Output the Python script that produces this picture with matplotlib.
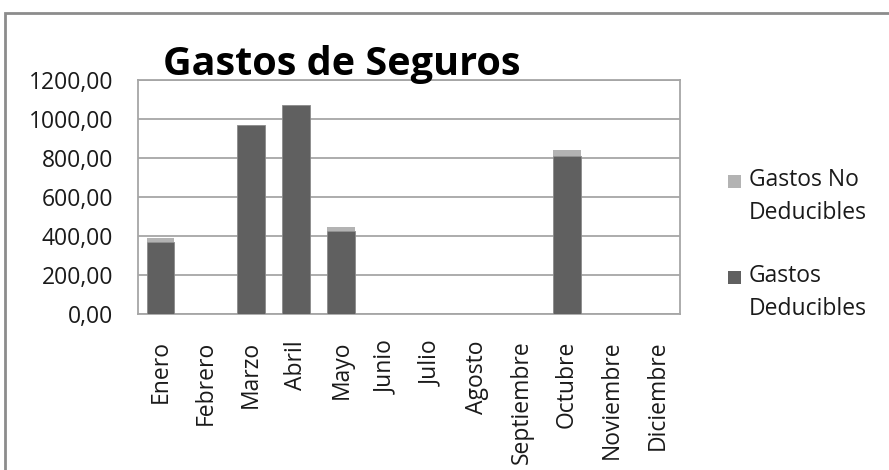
import matplotlib
matplotlib.use("Agg")
import matplotlib.pyplot as plt
from matplotlib.patches import Rectangle
import numpy as np

months = ["Enero", "Febrero", "Marzo", "Abril", "Mayo", "Junio", "Julio",
          "Agosto", "Septiembre", "Octubre", "Noviembre", "Diciembre"]
deducibles = [368, 0, 970, 1074, 425, 0, 0, 0, 0, 812, 0, 0]
no_deducibles = [20, 0, 0, 0, 20, 0, 0, 0, 0, 31, 0, 0]
yticks = [0, 200, 400, 600, 800, 1000, 1200]
ytick_labels = ["0,00", "200,00", "400,00", "600,00", "800,00", "1000,00", "1200,00"]
legend_labels = ["Gastos No\nDeducibles", "Gastos\nDeducibles"]

plt.rcParams['font.family'] = ['Open Sans', 'DejaVu Sans']

fig = plt.figure(figsize=(8.89, 4.70), dpi=100)
W, H = 889, 470
# outer chart border
fig.patches.append(Rectangle((5 / W, -0.1), 1.2, (H - 13) / H + 0.1, transform=fig.transFigure,
                             fill=False, edgecolor="#8c8c8c", linewidth=2.0))

ax = fig.add_axes([138 / W, 1 - 314 / H, (680 - 138) / W, (314 - 80) / H])
x = np.arange(len(months))
dark = "#606060"
light = "#b3b3b3"
ax.bar(x, deducibles, width=0.61, color=dark, edgecolor="#8a8a8a", linewidth=0.6, zorder=3)
ax.bar(x, no_deducibles, width=0.61, bottom=deducibles, color=light, linewidth=0, zorder=3)

ax.set_xlim(-0.5, len(months) - 0.5)
ax.set_ylim(0, 1200)
ax.set_yticks(yticks)
ax.set_yticklabels(ytick_labels, fontsize=16.5, color="#1a1a1a")
ax.set_xticks(x)
ax.set_xticklabels(months, rotation=90, fontsize=16.5, va="top", color="#1a1a1a")
ax.tick_params(length=0)
ax.tick_params(axis="y", pad=18)
ax.tick_params(axis="x", pad=19)
ax.yaxis.grid(True, color="#a6a6a6", linewidth=1.3, zorder=0)
for s in ax.spines.values():
    s.set_color("#a6a6a6")
    s.set_linewidth(1.3)

fig.text(163 / W, 1 - 75 / H, "Gastos de Seguros", fontsize=28.5, fontweight="bold",
         ha="left", va="baseline")

# legend drawn manually (square aligned with first text line)
for (label, col, ytop) in [(legend_labels[0], light, 168), (legend_labels[1], dark, 264)]:
    fig.patches.append(Rectangle((728 / W, 1 - (ytop + 20) / H), 13 / W, 13 / H,
                                 transform=fig.transFigure, facecolor=col, edgecolor="none"))
    fig.text(749 / W, 1 - ytop / H, label, fontsize=16.5, ha="left", va="top",
             linespacing=1.5, color="#1a1a1a")

fig.savefig("out.png", dpi=100)
